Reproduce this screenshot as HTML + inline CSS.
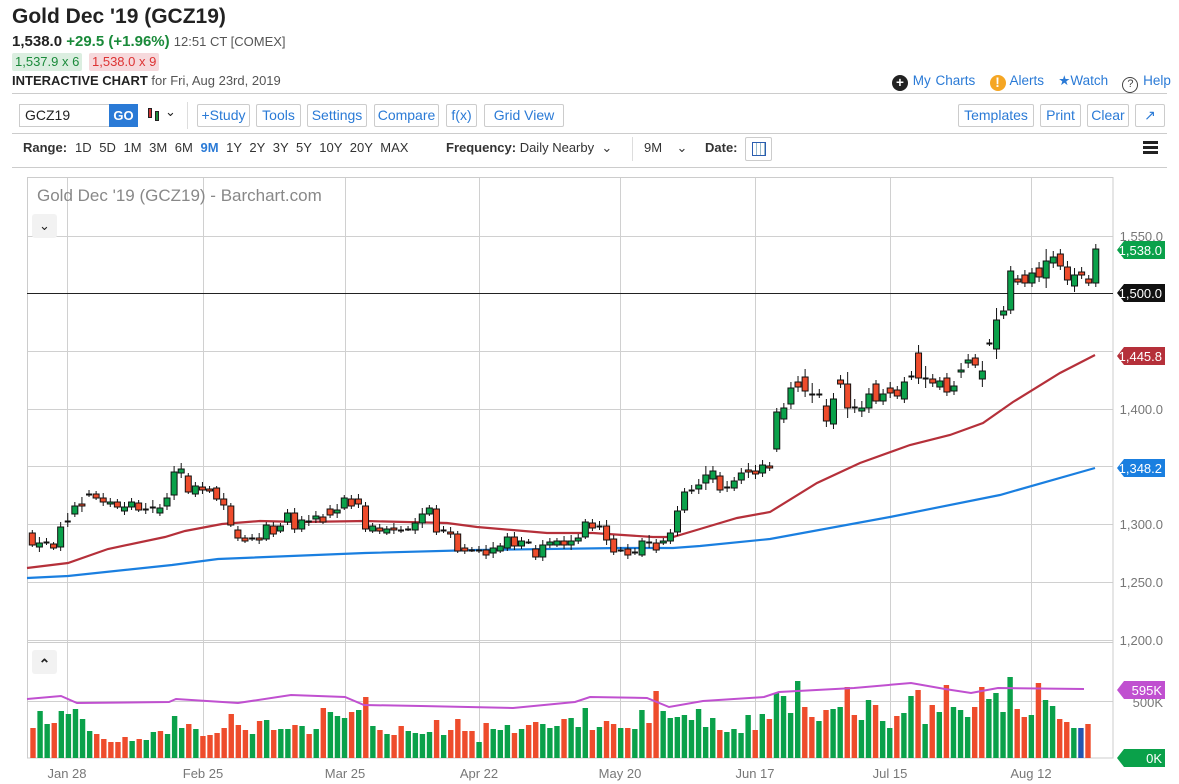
<!DOCTYPE html>
<html><head><meta charset="utf-8">
<style>
*{box-sizing:border-box}
body{margin:0;width:1179px;height:784px;overflow:hidden;background:#fff;font-family:"Liberation Sans",sans-serif;color:#222;position:relative}
.a{position:absolute;white-space:nowrap}
.btn{position:absolute;top:104px;height:23px;border:1px solid #ccc;border-radius:2px;color:#2a7ad6;font-size:14px;line-height:21px;text-align:center}
.rg{position:absolute;top:140px;font-size:13px;color:#333}
.hr{position:absolute;left:12px;right:12px;height:1px;background:#ccc}
</style></head><body>
<div class="a" style="left:12px;top:5px;font-size:21px;font-weight:bold;color:#222">Gold Dec '19 (GCZ19)</div>
<div class="a" style="left:12px;top:33px;font-size:15px;font-weight:bold">1,538.0 <span style="color:#1a8a3a">+29.5 (+1.96%)</span> <span style="font-weight:normal;font-size:13px;color:#555">12:51 CT [COMEX]</span></div>
<div class="a" style="left:12px;top:53px;height:18px;padding:0 3px;background:#dbeee0;color:#1a8a3a;font-size:13px;line-height:18px;border-radius:2px">1,537.9 x 6</div>
<div class="a" style="left:89px;top:53px;height:18px;padding:0 3px;background:#f6d9dc;color:#d33;font-size:13px;line-height:18px;border-radius:2px">1,538.0 x 9</div>
<div class="a" style="left:12px;top:73px;font-size:13px"><b>INTERACTIVE CHART</b> <span style="color:#555">for Fri, Aug 23rd, 2019</span></div>
<div class="a" style="left:892px;top:73px;font-size:13.5px;color:#2a7ad6;word-spacing:1px"><span style="display:inline-block;width:16px;height:16px;border-radius:50%;background:#222;color:#fff;text-align:center;line-height:16px;font-weight:bold;vertical-align:-2px">+</span> My Charts &nbsp;&nbsp;<span style="display:inline-block;width:16px;height:16px;border-radius:50%;background:#f5a623;color:#fff;text-align:center;line-height:16px;font-weight:bold;vertical-align:-2px">!</span> Alerts &nbsp;&nbsp;<span style="color:#2a7ad6">★</span>Watch &nbsp;&nbsp;<span style="display:inline-block;width:16px;height:16px;border-radius:50%;border:1.5px solid #444;color:#444;text-align:center;line-height:13px;font-size:11px;vertical-align:-2px">?</span> Help</div>
<div class="hr" style="top:93px"></div>
<div class="a" style="left:19px;top:104px;width:91px;height:23px;border:1px solid #ccc;font-size:14px;line-height:21px;padding-left:5px">GCZ19</div>
<div class="a" style="left:109px;top:104px;width:29px;height:23px;background:#2a7ad6;color:#fff;font-weight:bold;font-size:13px;line-height:23px;text-align:center">GO</div>
<div class="a" style="left:148px;top:108px;width:4px;height:10px;background:#c33;border:1px solid #222"></div>
<div class="a" style="left:155px;top:111px;width:4px;height:10px;background:#1a8a3a;border:1px solid #222"></div>
<div class="a" style="left:165px;top:104px;font-size:13px">&#8964;</div>
<div class="a" style="left:187px;top:102px;width:1px;height:27px;background:#ddd"></div>
<div class="btn" style="left:197px;width:53px">+Study</div>
<div class="btn" style="left:256px;width:45px">Tools</div>
<div class="btn" style="left:307px;width:60px">Settings</div>
<div class="btn" style="left:374px;width:65px">Compare</div>
<div class="btn" style="left:446px;width:31px">f(x)</div>
<div class="btn" style="left:484px;width:80px">Grid View</div>
<div class="btn" style="left:958px;width:76px">Templates</div>
<div class="btn" style="left:1040px;width:41px">Print</div>
<div class="btn" style="left:1087px;width:42px">Clear</div>
<div class="btn" style="left:1135px;width:30px">&#8599;</div>
<div class="hr" style="top:133px"></div>
<div class="rg" style="left:23px"><b>Range:</b></div>
<div class="rg" style="left:75px;word-spacing:4px">1D 5D 1M 3M 6M <b style="color:#2a7ad6">9M</b> 1Y 2Y 3Y 5Y 10Y 20Y MAX</div>
<div class="rg" style="left:446px"><b>Frequency:</b> Daily Nearby &nbsp;&#8964;</div>
<div class="a" style="left:632px;top:137px;width:1px;height:24px;background:#ddd"></div>
<div class="rg" style="left:644px">9M &nbsp;&nbsp;&nbsp;&#8964;</div>
<div class="rg" style="left:705px"><b>Date:</b></div>
<div class="a" style="left:745px;top:137px;width:27px;height:24px;border:1px solid #ccc;border-radius:2px"><div style="margin:4px 6px;width:14px;height:14px;border:1px solid #2a5db0;background:repeating-linear-gradient(90deg,#fff 0 3px,#9bc 3px 4px)"></div></div>
<div class="a" style="left:1143px;top:141px;width:15px;height:3px;background:#222;box-shadow:0 5px 0 #222,0 10px 0 #222"></div>
<div class="hr" style="top:167px"></div>
<svg class="a" style="left:0;top:0" width="1179" height="784" id="s"></svg>
<div class="a" style="left:37px;top:186px;font-size:17px;color:#888">Gold Dec '19 (GCZ19) - Barchart.com</div>
<div class="a" style="left:32px;top:214px;width:25px;height:24px;background:#f2f2f2;border-radius:3px;text-align:center;font-size:13px;line-height:24px">&#8964;</div>
<div class="a" style="left:32px;top:650px;width:25px;height:24px;background:#f2f2f2;border-radius:3px;text-align:center;font-size:14px;line-height:28px;font-weight:bold">&#8963;</div>
<script>
var S=document.getElementById('s'),h='';
function L(x1,y1,x2,y2,c,w){h+='<line x1="'+x1+'" y1="'+y1+'" x2="'+x2+'" y2="'+y2+'" stroke="'+c+'" stroke-width="'+(w||1)+'"/>';}
function R(x,y,w,hh,f,st){h+='<rect x="'+x+'" y="'+y+'" width="'+w+'" height="'+hh+'" fill="'+f+'"'+(st?' stroke="'+st+'" stroke-width="1"':'')+'/>';}
function T(x,y,t,c,s,a){h+='<text x="'+x+'" y="'+y+'" fill="'+c+'" font-size="'+s+'" font-family="Liberation Sans,sans-serif"'+(a?' text-anchor="'+a+'"':'')+'>'+t+'</text>';}
function P(pts,c,w){h+='<polyline fill="none" stroke="'+c+'" stroke-width="'+w+'" points="'+pts.map(function(p){return p.join(',')}).join(' ')+'"/>';}
var G='#d0d0d0';
[236,293,351,409,466,524,582,640].forEach(function(y){L(27,y+.5,1113,y+.5,G)});
[67,203,345,479,620,755,890,1031].forEach(function(x){L(x+.5,177,x+.5,758,G)});
L(27,701.5,1113,701.5,G);
R(27.5,177.5,1085.5,580.5,'none','#ccc');
R(27.5,642.5,1085.5,115.5,'none','#ccc');
L(27,293.5,1113,293.5,'#222');
P([[27,568],[68,563],[108,549],[165,537],[185,531],[222,524],[260,521],[300,522],[365,521],[447,523],[477,527],[547,533],[593,533],[653,537],[673,537],[700,529],[737,518],[770,512],[817,483],[860,463],[910,445],[950,435],[983,423],[1013,402],[1060,373],[1095,355]],'#b5303a',2.2);
P([[27,578],[68,576],[172,565],[218,559],[365,553],[477,550],[620,548],[673,548],[700,546],[770,539],[890,517],[1000,495],[1095,468]],'#1a7fe0',2.2);
var C=[[533,545],[547,543],[542,542],[544,548],[547,527],[521,521],[514,506],[504,506],[494,494],[494,498],[498,502],[504,502],[502,507],[511,507],[507,502],[503,510],[509,509],[507,507],[513,508],[506,498],[495,472],[473,469],[476,492],[494,486],[487,490],[489,491],[488,499],[499,505],[506,525],[530,538],[538,541],[538,538],[538,540],[539,525],[526,534],[531,526],[522,513],[513,529],[529,520],[521,521],[519,516],[517,522],[509,515],[513,510],[508,498],[499,506],[499,504],[506,529],[531,526],[528,531],[533,529],[528,530],[530,530],[529,529],[530,523],[523,514],[514,508],[509,532],[530,530],[532,534],[534,551],[548,551],[550,550],[550,550],[550,555],[553,548],[551,546],[548,537],[537,546],[546,541],[542,542],[549,557],[557,545],[545,542],[545,541],[541,545],[545,541],[541,538],[537,522],[523,528],[526,526],[526,540],[539,552],[550,550],[549,555],[552,552],[555,541],[542,542],[543,550],[543,541],[541,533],[532,511],[510,492],[490,490],[489,485],[483,475],[479,471],[476,490],[487,487],[488,481],[480,473],[470,472],[471,474],[473,465],[466,468],[449,412],[419,408],[404,388],[382,387],[377,391],[394,394],[394,394],[406,421],[424,399],[380,384],[384,408],[407,407],[411,408],[408,394],[384,401],[401,394],[388,393],[390,396],[399,382],[376,376],[353,378],[378,378],[379,383],[387,381],[378,392],[391,386],[372,370],[363,360],[358,365],[379,371],[343,343],[349,320],[315,311],[310,271],[279,282],[275,283],[283,273],[268,277],[278,261],[263,257],[254,266],[267,280],[286,275],[272,275],[279,283],[283,249]];
var WH=[3,6,4,2,5,8,4,7,4,3,5,4,3,5,4,3,6,7,4,5,6,6,3,4,5,3,2,6,3,4,3,4,5,3,4,3,4,5,4,6,5,3,4,6,3,4,5,4,3,4,3,5,4,3,5,6,3,4,4,5,3,4,3,4,5,6,3,4,5,4,3,4,5,4,3,5,6,4,3,4,5,6,4,3,5,4,3,7,4,3,4,5,4,5,6,9,5,4,6,4,5,7,6,5,4,4,5,6,6,8,11,5,7,6,5,12,8,7,6,4,5,6,4,5,5,8,12,5,4,5,5,7,6,4,10,4,12,5,5,4,5,5,6,12,6,5,6,7,5,4,5,5];
var dx=7.09,x0=32.3;
C.forEach(function(c,i){var x=x0+dx*i,o=c[0],cl=c[1],t=Math.min(o,cl),b=Math.max(o,cl),w=WH[i]||4;
L(x,t-w,x,b+Math.round(w*0.8),'#111',1);
if(b-t<1.5){L(x-3,t+.5,x+3,t+.5,'#111',2);}
else R(x-3,t,6,b-t,cl<o?'#0aa14a':'#ee4c2c','#111');});
var V=[['r',264],['g',213],['g',252],['r',249],['g',213],['g',222],['g',207],['g',237],['g',273],['r',282],['r',297],['r',306],['r',306],['r',291],['g',303],['r',297],['g',300],['g',276],['r',273],['g',282],['g',228],['g',264],['r',252],['g',267],['r',288],['r',285],['r',279],['r',264],['r',222],['r',255],['r',270],['g',282],['r',243],['g',240],['r',270],['g',267],['g',267],['r',255],['g',258],['r',282],['g',267],['r',204],['g',216],['g',228],['g',234],['r',216],['g',210],['r',171],['g',258],['r',270],['g',282],['r',285],['r',258],['g',273],['g',279],['g',282],['g',276],['r',240],['g',285],['r',270],['r',237],['r',273],['r',273],['g',306],['r',249],['g',267],['g',270],['g',255],['r',279],['g',267],['r',255],['r',246],['g',252],['g',264],['g',258],['r',237],['g',234],['g',261],['g',204],['r',270],['g',261],
['r',243],['r',252],['g',264],['r',264],['g',267],['g',210],['r',249],['r',153],['g',213],['g',234],['g',231],['g',225],['g',240],['g',207],['g',261],['g',234],['r',270],['g',276],['g',267],['g',279],['g',225],['r',270],['g',222],['r',237],['g',159],['g',168],['g',219],['g',123],['r',201],['r',231],['g',243],['r',210],['g',207],['g',201],['r',141],['r',225],['g',240],['g',180],['r',195],['g',243],['g',264],['r',228],['g',219],['g',168],['r',150],['g',252],['r',195],['g',216],['r',135],['g',201],['g',210],['g',231],['r',201],['r',141],['g',177],['g',159],['g',216],['g',111],['r',207],['r',231],['g',225],['r',129],['g',180],['g',198],['r',237],['r',246],['g',264],['b',264],['r',252]];
var n=V.length,vdx=(1088-33)/(n-1);
V.forEach(function(v,i){var x=33+vdx*i,hh=(354-v[1])/3;R(x-2.7,758-hh,5.4,hh,v[0]=='g'?'#0aa14a':v[0]=='r'?'#ee4c2c':'#2455b0');});
P([[27,699],[61,696],[77,703],[169,702],[176,699],[238,703],[291,695],[345,697],[364,705],[421,706],[513,708],[575,702],[590,697],[647,698],[669,707],[703,701],[764,697],[779,692],[854,688],[911,683],[945,689],[971,693],[998,688],[1084,689]],'#c050d0',2);
[['1,550.0',236],['1,400.0',409],['1,300.0',524],['1,250.0',582],['1,200.0',640]].forEach(function(a){T(1163,a[1]+5,a[0],'#777',13,'end')});
T(1163,707,'500K','#777',13,'end');
function Lab(y,t,c){h+='<polygon points="1117,'+y+' 1124,'+(y-9)+' 1165,'+(y-9)+' 1165,'+(y+9)+' 1124,'+(y+9)+'" fill="'+c+'"/>';T(1162,y+5,t,'#fff',13,'end');}
Lab(250,'1,538.0','#0aa14a');Lab(293,'1,500.0','#111');Lab(356,'1,445.8','#b5303a');Lab(468,'1,348.2','#1a7fe0');Lab(690,'595K','#c050d0');Lab(758,'0K','#0aa14a');
[['Jan 28',67],['Feb 25',203],['Mar 25',345],['Apr 22',479],['May 20',620],['Jun 17',755],['Jul 15',890],['Aug 12',1031]].forEach(function(a){T(a[1],778,a[0],'#777',13,'middle')});
S.innerHTML=h;
</script>
</body></html>
